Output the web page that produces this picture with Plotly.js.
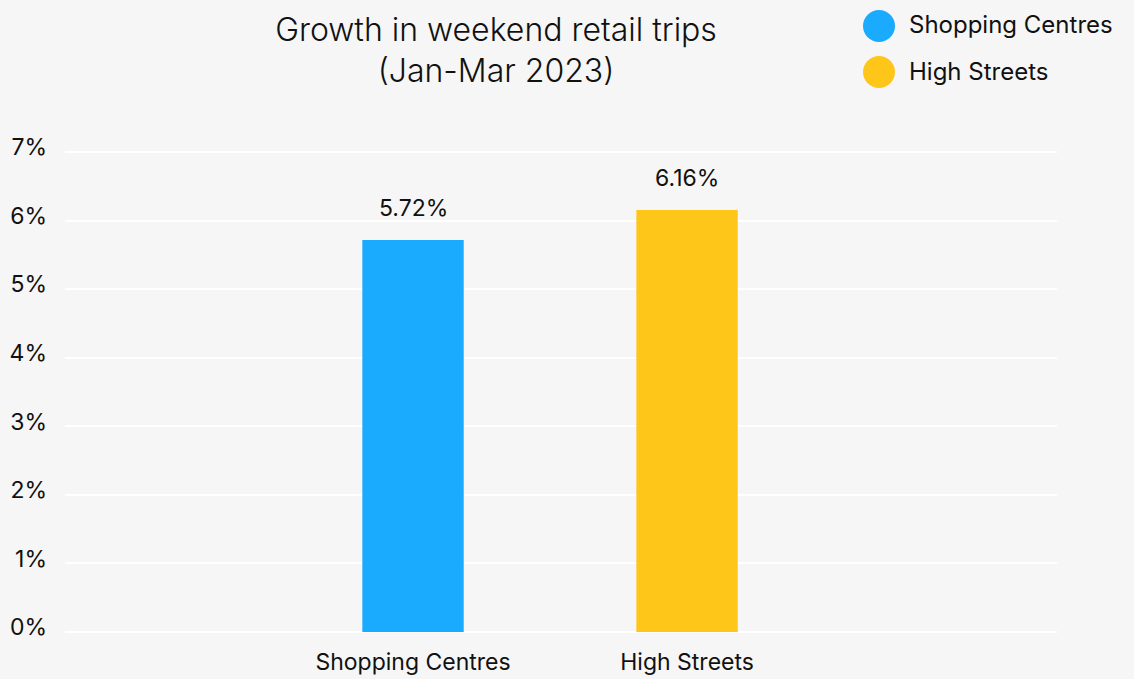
<!DOCTYPE html>
<html>
<head>
<meta charset="utf-8">
<script src="https://cdn.plot.ly/plotly-3.0.1.min.js"></script>
<style>
  html, body { margin: 0; padding: 0; background: #f6f6f6; }
  #chart { width: 1134px; height: 679px; }
</style>
</head>
<body>
<div id="chart"></div>
<script>
// weekend retail trip growth, Jan-Mar 2023 (%)
const categories = ["Shopping Centres", "High Streets"];
const growth = [5.72, 6.16];
const colours = ["#1aabff", "#ffc61a"];
const yTicks = [0, 1, 2, 3, 4, 5, 6, 7];

const font = "Inter, 'Noto Sans', sans-serif";

const traces = categories.map((name, i) => ({
  type: "bar",
  name: name,
  x: [name],
  y: [growth[i]],
  width: 0.37,
  marker: {color: colours[i]},
  showlegend: false,
  hoverinfo: "skip",
}));

// value labels above the bars
const labels = categories.map((name, i) => ({
  x: name,
  y: growth[i],
  xref: "x",
  yref: "y",
  text: growth[i].toFixed(2) + "%",
  showarrow: false,
  yanchor: "bottom",
  yshift: 16,
  font: {family: font, size: 23, color: "#111"},
}));

// legend drawn by hand so the markers can be big circles
const plotW = 992, plotTop = 151, plotH = 481;
const legendText = categories.map((name, i) => ({
  xref: "paper", yref: "paper",
  x: (907 - 65) / plotW, y: 1 + (plotTop - (25 + i * 47)) / plotH,
  xanchor: "left", yanchor: "middle",
  text: name, showarrow: false,
  font: {family: font, size: 24, color: "#111"},
}));
const circles = categories.map((name, i) => ({
  type: "circle", xref: "paper", yref: "paper",
  xsizemode: "pixel", ysizemode: "pixel",
  xanchor: (879 - 65) / plotW, yanchor: 1 + (plotTop - (26 + i * 46)) / plotH,
  x0: -16, x1: 16, y0: -16, y1: 16,
  fillcolor: colours[i], line: {width: 0},
}));

const layout = {
  width: 1134,
  height: 679,
  paper_bgcolor: "#f6f6f6",
  plot_bgcolor: "#f6f6f6",
  margin: {l: 65, r: 77, t: plotTop, b: 47},
  title: {
    text: "Growth in weekend retail trips<br>(Jan-Mar 2023)",
    font: {family: font, size: 32, color: "#111", weight: 300},
    x: 496 / 1134, xanchor: "center",
    y: 0.94, yanchor: "top",
  },
  barmode: "overlay",
  xaxis: {
    type: "category",
    range: [-1.27, 2.35],
    showgrid: false,
    zeroline: false,
    showline: false,
    ticks: "",
    ticklabelstandoff: 14,
    tickfont: {family: font, size: 23, color: "#111"},
    fixedrange: true,
  },
  yaxis: {
    range: [0, 7.02],
    tickvals: yTicks,
    ticktext: yTicks.map(v => v + "%"),
    showgrid: true,
    gridcolor: "#ffffff",
    gridwidth: 2,
    zeroline: true,
    zerolinecolor: "#ffffff",
    zerolinewidth: 2,
    showline: false,
    ticks: "",
    ticklabelstandoff: 17,
    ticklabelshift: -5,
    tickfont: {family: font, size: 23, color: "#111"},
    fixedrange: true,
  },
  shapes: circles,
  annotations: labels.concat(legendText),
  showlegend: false,
};

Plotly.newPlot("chart", traces, layout, {displayModeBar: false, staticPlot: true});
</script>
</body>
</html>
